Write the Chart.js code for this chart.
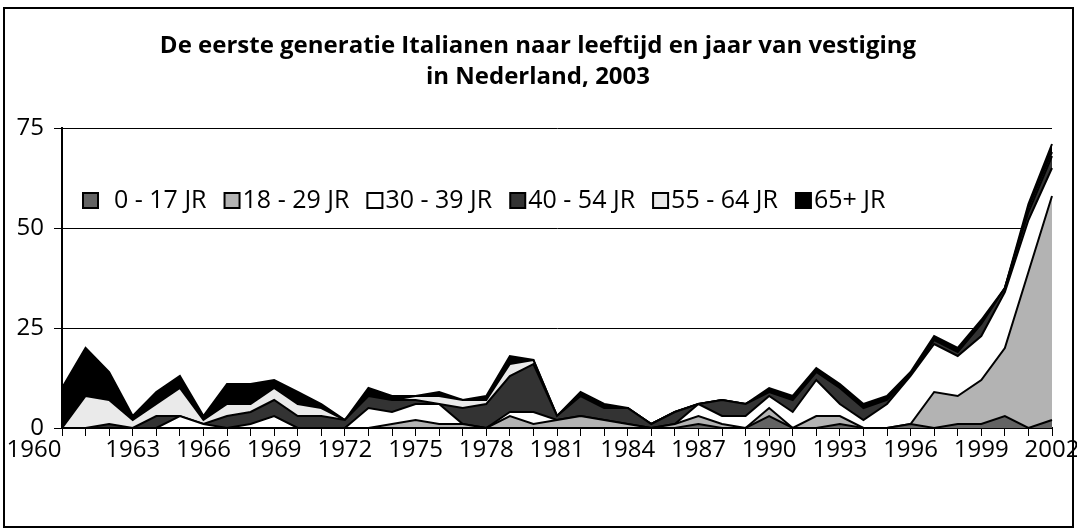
<!DOCTYPE html>
<html>
<head>
<meta charset="utf-8">
<script src="https://cdn.jsdelivr.net/npm/chart.js@4.4.1/dist/chart.umd.min.js"></script>
<style>
  html, body { margin: 0; padding: 0; background: #fff; }
  #wrap { width: 1077px; height: 532px; }
</style>
</head>
<body>
<div id="wrap"><canvas id="chart" width="1077" height="532"></canvas></div>
<script>
const titleLines = ["De eerste generatie Italianen naar leeftijd en jaar van vestiging", "in Nederland, 2003"];

const years = ["1960","1961","1962","1963","1964","1965","1966","1967","1968","1969",
  "1970","1971","1972","1973","1974","1975","1976","1977","1978","1979",
  "1980","1981","1982","1983","1984","1985","1986","1987","1988","1989",
  "1990","1991","1992","1993","1994","1995","1996","1997","1998","1999",
  "2000","2001","2002"];

const seriesNames = ["  0 - 17 JR", "18 - 29 JR", "30 - 39 JR", "40 - 54 JR", "55 - 64 JR", "65+ JR"];
const seriesColors = ["#636363", "#b3b3b3", "#ffffff", "#333333", "#eaeaea", "#000000"];

const age0_17  = [0,0,0,0,0,0,0,0,0,0, 0,0,0,0,0,0,0,0,0,0, 0,0,0,0,0,0,0,1,0,0, 3,0,0,1,0,0,1,0,1,1, 3,0,2];
const age18_29 = [0,0,0,0,0,0,0,0,0,0, 0,0,0,0,1,2,1,1,0,3, 1,2,3,2,1,0,1,2,1,0, 2,0,3,2,0,0,0,9,7,11, 17,39,56];
const age30_39 = [0,0,0,0,0,3,1,0,1,3, 0,0,0,5,3,4,5,0,0,1, 3,0,0,0,0,0,0,3,2,3, 3,4,9,3,2,6,12,12,10,11, 14,13,7];
const age40_54 = [0,0,1,0,3,0,0,3,3,4, 3,3,2,3,3,1,0,4,6,9, 12,1,5,3,4,1,3,0,4,3, 1,3,2,4,3,1,0,1,1,3, 1,2,3];
const age55_64 = [0,8,6,2,3,7,1,3,2,3, 3,2,0,0,0,1,2,2,1,3, 1,0,0,0,0,0,0,0,0,0, 0,0,0,0,0,0,0,0,0,0, 0,1,1];
const age65    = [10,12,7,1,3,3,1,5,5,2, 3,1,0,2,1,0,1,0,1,2, 0,0,1,1,0,0,0,0,0,0, 1,1,1,1,1,1,1,1,1,1, 0,1,2];

const seriesData = [age0_17, age18_29, age30_39, age40_54, age55_64, age65];

const datasets = seriesNames.map((name, i) => ({
  label: name,
  data: seriesData[i],
  backgroundColor: seriesColors[i],
  borderColor: "#000",
  borderWidth: 2,
  pointRadius: 0,
  tension: 0,
  fill: i === 0 ? "origin" : "-1"
}));

// frame, title and legend drawn on the canvas
const decorations = {
  id: "decorations",
  beforeDraw(chart) {
    const ctx = chart.ctx;
    ctx.save();
    ctx.fillStyle = "#fff";
    ctx.fillRect(0, 0, chart.width, chart.height);
    ctx.restore();
  },
  afterDraw(chart) {
    const ctx = chart.ctx;
    ctx.save();
    ctx.strokeStyle = "#000";
    ctx.lineWidth = 2;
    ctx.strokeRect(4, 8, 1069, 519);

    ctx.fillStyle = "#000";
    ctx.font = 'bold 24px "Open Sans"';
    ctx.textAlign = "center";
    ctx.textBaseline = "middle";
    ctx.fillText(titleLines[0], 538, 46);
    ctx.fillText(titleLines[1], 538, 77);

    ctx.font = '25px "Open Sans"';
    ctx.textAlign = "left";
    let x = 83;
    const y = 200;
    chart.data.datasets.forEach(ds => {
      ctx.fillStyle = ds.backgroundColor;
      ctx.fillRect(x, y - 7, 15, 15);
      ctx.lineWidth = 2;
      ctx.strokeStyle = "#000";
      ctx.strokeRect(x, y - 7, 15, 15);
      x += 18;
      ctx.fillStyle = "#000";
      ctx.fillText(ds.label, x, y + 1);
      x += ctx.measureText(ds.label).width + 18;
    });
    ctx.restore();
  }
};

const ctx = document.getElementById("chart").getContext("2d");
const chart = new Chart(ctx, {
  type: "line",
  data: { labels: years, datasets: datasets },
  options: {
    responsive: false,
    animation: false,
    devicePixelRatio: 1,
    layout: { padding: { top: 128, right: 25, bottom: 0, left: 0 } },
    plugins: {
      legend: { display: false },
      title: { display: false },
      tooltip: { enabled: false }
    },
    scales: {
      x: {
        grid: { drawOnChartArea: false, drawTicks: true, tickLength: 8, color: "#000", lineWidth: 1 },
        border: { color: "#000", width: 2 },
        ticks: {
          autoSkip: false, maxRotation: 0, minRotation: 0, padding: 0, color: "#000",
          font: { family: "Open Sans", size: 24 },
          callback: function (v, i) {
            if (i === 0) return this.getLabelForValue(v) + "         "; // first label sits left of its tick
            return i % 3 === 0 ? this.getLabelForValue(v) : "";
          }
        },
        afterFit(scale) { scale.height = 104; scale.paddingLeft = 0; scale.paddingRight = 0; }
      },
      y: {
        stacked: true,
        min: 0,
        max: 75,
        ticks: { stepSize: 25, padding: 10, color: "#000", font: { family: "Open Sans", size: 24 } },
        grid: { color: "#000", lineWidth: 1, tickLength: 8 },
        border: { color: "#000", width: 2 },
        afterFit(scale) { scale.width = 62; }
      }
    }
  },
  plugins: [decorations]
});
</script>
</body>
</html>
